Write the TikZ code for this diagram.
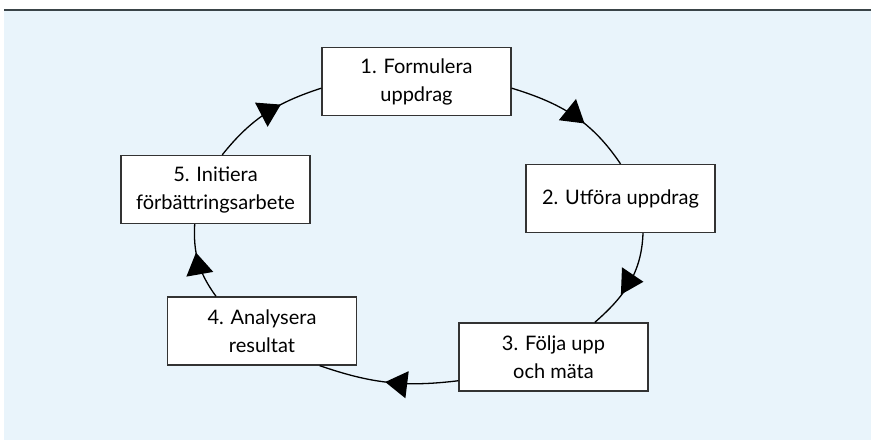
\documentclass[tikz,border=0pt]{standalone}
\usepackage{fontspec}
\setmainfont{Lato}
\usepackage{tikz}
\usetikzlibrary{arrows.meta,decorations.markings}
\definecolor{bgblue}{RGB}{233,244,251}
\definecolor{boxline}{RGB}{51,51,51}
\definecolor{topline}{RGB}{58,68,72}

\begin{document}
\begin{tikzpicture}[
  stepbox/.style={draw=boxline, line width=1.3pt, fill=white, minimum width=189pt,
    minimum height=68pt, align=center, inner sep=2pt, font=\fontsize{20}{28}\selectfont},
  cycarrow/.style={line width=1.3pt, postaction={decorate}, decoration={markings,
    mark=at position #1 with {\arrow{Triangle[length=22pt,width=27pt]}}}}
]
\useasboundingbox (0pt,0pt) rectangle (871pt,-440pt);
\fill[bgblue] (4pt,-10pt) rectangle (871pt,-440pt);
\draw[topline, line width=2pt] (4pt,-10pt) -- (871pt,-10pt);
\node[stepbox] (1) at (416.5pt,-81.5pt) {1. Formulera\\uppdrag};
\node[stepbox] (2) at (620.5pt,-198.5pt) {2. Utföra uppdrag};
\node[stepbox] (3) at (553.5pt,-357pt) {3. Följa upp\\och mäta};
\node[stepbox] (4) at (262pt,-331pt) {4. Analysera\\resultat};
\node[stepbox] (5) at (215.5pt,-189.5pt) {5. Initiera\\förbättringsarbete};
% the cycle
\draw[cycarrow=0.6] (1.-4) to [out=-17,in=124] (2.north);
\draw[line width=1.3pt, postaction={decorate}, decoration={markings,
  mark=at position 0.5 with {\pgftransformrotate{118}\pgftransformshift{\pgfpoint{14pt}{2pt}}\arrow{Triangle[length=22pt,width=27pt]}}}]
  (2.-57) to [out=-92,in=41] (3.40);
\draw[cycarrow=0.52] (3.194) to [out=187,in=-19] (4.-31);
\draw[cycarrow=0.63] (4.143) to [out=126,in=-93] (5.-121.5);
\draw[cycarrow=0.64] (5.79) to [out=51.5,in=198] (1.184);
\end{tikzpicture}
\end{document}
